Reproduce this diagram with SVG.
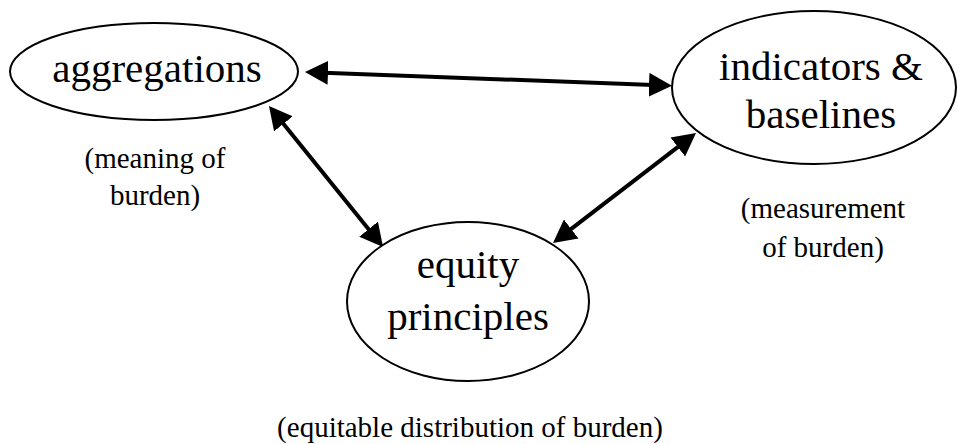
<svg xmlns="http://www.w3.org/2000/svg" width="958" height="444" viewBox="0 0 958 444">
  <style>
    .node ellipse { fill: #ffffff; stroke: #000000; stroke-width: 2; }
    .title { font-family: "Liberation Serif", "Times New Roman", serif; font-size: 41px; fill: #000000; text-anchor: middle; }
    .note { font-family: "Liberation Serif", "Times New Roman", serif; font-size: 29px; fill: #000000; text-anchor: middle; }
    .link { stroke: #000000; stroke-width: 4; fill: none; marker-start: url(#head); marker-end: url(#head); }
  </style>
  <defs>
    <marker id="head" markerUnits="userSpaceOnUse" markerWidth="23" markerHeight="24" refX="11" refY="12" orient="auto-start-reverse" viewBox="0 0 23 24">
      <path d="M0,0 L23,12 L0,24 Z" fill="#000000"/>
    </marker>
  </defs>

  <rect width="958" height="444" fill="#ffffff"/>

  <!-- two-way connectors between the three concepts -->
  <g id="connectors">
    <line class="link" x1="317" y1="72.45" x2="660" y2="85.25"/>
    <line class="link" x1="276.5" y1="115.3" x2="375.5" y2="237.7"/>
    <line class="link" x1="562.5" y1="235.7" x2="686.5" y2="140.3"/>
  </g>

  <g id="aggregations" class="node">
    <ellipse cx="154" cy="71.5" rx="144" ry="48.5"/>
    <text class="title" x="157" y="82">aggregations</text>
    <text class="note" x="155" y="168">(meaning of</text>
    <text class="note" x="155" y="205">burden)</text>
  </g>

  <g id="indicators" class="node">
    <ellipse cx="814" cy="87.5" rx="142" ry="76.5"/>
    <text class="title" x="821" y="80">indicators &amp;</text>
    <text class="title" x="821" y="128">baselines</text>
    <text class="note" x="823" y="218">(measurement</text>
    <text class="note" x="823" y="257">of burden)</text>
  </g>

  <g id="equity" class="node">
    <ellipse cx="468" cy="301.5" rx="121" ry="79.5"/>
    <text class="title" x="468" y="278">equity</text>
    <text class="title" x="468" y="330">principles</text>
    <text class="note" x="470" y="437">(equitable distribution of burden)</text>
  </g>
</svg>
